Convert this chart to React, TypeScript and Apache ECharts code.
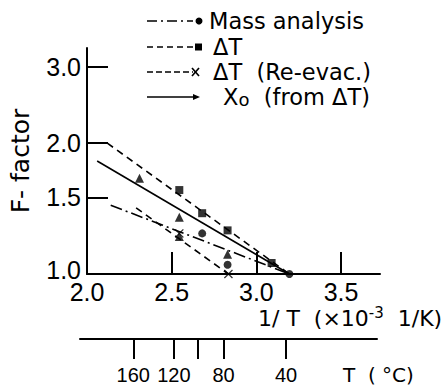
import React, { useEffect, useRef } from "react";
import * as echarts from "echarts";

// ---- data ----
const xTickValues = [2.0, 2.5, 3.0, 3.5];
const yTickValues = [1.0, 1.5, 2.0, 3.0];
const tempTicks = [160, 120, 100, 80, 40];
const tempLabels = ["160", "120", "", "80", "40"];

const massFit = [[2.14, 1.44], [3.195, 1.0]];
const massPts = [[2.68, 1.24], [2.83, 1.05], [3.195, 1.0]];
const dtFit = [[2.12, 2.0], [3.195, 1.0]];
const dtPts = [[2.545, 1.56], [2.68, 1.38], [2.83, 1.26], [3.09, 1.06]];
const reFit = [[2.29, 1.42], [2.835, 1.0]];
const rePts = [[2.545, 1.24], [2.835, 1.0]];
const x0Fit = [[2.06, 1.82], [3.195, 1.0]];
const x0Pts = [[2.31, 1.66], [2.545, 1.35], [2.545, 1.22], [2.83, 1.11]];

const FONT = "DejaVu Sans";
const TICKFONT = "Liberation Sans";
const lg = (d: number[][]) => d.map(([x, f]) => [x, Math.log10(f)]);
const invT = (t: number) => 1000 / (t + 273.15);
const X_SYMBOL = "path://M0,1L1,0L5,4L9,0L10,1L6,5L10,9L9,10L5,6L1,10L0,9L4,5Z";

export default function App() {
  const ref = useRef<HTMLDivElement>(null);
  useEffect(() => {
    if (!ref.current) return;
    const chart = echarts.init(ref.current, null, { renderer: "svg" });
    const tempVals = tempTicks.map(invT);
    const black = "#000";
    const fitLine = (name: string, data: number[][], type: any) => ({
      name,
      type: "line",
      data: lg(data),
      symbol: "none",
      lineStyle: { color: black, width: 1.6, type },
      z: 3,
    });
    const pts = (name: string, data: number[][], symbol: string, size: number) => ({
      name,
      type: "scatter",
      data: lg(data),
      symbol,
      symbolSize: size,
      itemStyle: { color: black },
      z: 4,
    });
    const legendRows = [
      { y: 21, dash: [10, 4, 2, 4], sym: "dot" },
      { y: 47, dash: [6, 4], sym: "square" },
      { y: 72, dash: [6, 3], sym: "x" },
      { y: 97, dash: null, sym: "tri" },
    ];
    const legendGraphics: any[] = [];
    legendRows.forEach((r) => {
      legendGraphics.push({
        type: "line",
        shape: { x1: 147, y1: r.y, x2: 193, y2: r.y },
        style: { stroke: black, lineWidth: 1.6, lineDash: r.dash || undefined },
      });
      if (r.sym === "dot")
        legendGraphics.push({ type: "circle", shape: { cx: 199, cy: r.y, r: 3.5 }, style: { fill: black } });
      if (r.sym === "square")
        legendGraphics.push({ type: "rect", shape: { x: 195, y: r.y - 3.5, width: 7, height: 7 }, style: { fill: black } });
      if (r.sym === "x") {
        legendGraphics.push({ type: "line", shape: { x1: 192, y1: r.y - 4, x2: 199, y2: r.y + 4 }, style: { stroke: black, lineWidth: 1.6 } });
        legendGraphics.push({ type: "line", shape: { x1: 199, y1: r.y - 4, x2: 192, y2: r.y + 4 }, style: { stroke: black, lineWidth: 1.6 } });
      }
      if (r.sym === "tri")
        legendGraphics.push({ type: "polygon", shape: { points: [[193, r.y - 3], [200, r.y], [193, r.y + 3]] }, style: { fill: black } });
    });
    const LEGSIZE = 22.5;
    const legText = (x: number, y: number, text: string) => ({
      type: "text",
      x,
      y,
      style: {
        text,
        verticalAlign: "middle",
        font: `${LEGSIZE}px '${FONT}'`,
        lineHeight: 22,
        fill: black,
      },
    });
    legendGraphics.push(
      legText(209, 21, "Mass analysis"),
      legText(213, 47, "ΔT"),
      legText(213, 72, "ΔT  (Re-evac.)"),
      {
        type: "text",
        x: 223,
        y: 97,
        style: {
          text: "{m|X}{s|o}{m|  (from ΔT)}",
          verticalAlign: "middle",
          rich: {
            m: { fontFamily: FONT, fontSize: LEGSIZE, color: black, lineHeight: 22, verticalAlign: "bottom" },
            s: { fontFamily: FONT, fontSize: 18, color: black, lineHeight: 18, verticalAlign: "bottom", padding: [3, 0, 0, 0] },
          },
        },
      },
      {
        type: "text",
        x: 258,
        y: 317,
        style: {
          text: "{n|1/ T  (×10}{s|-3}{n|  1/K)}",
          verticalAlign: "middle",
          rich: {
            n: { fontFamily: FONT, fontSize: 22, color: black, lineHeight: 24, verticalAlign: "bottom" },
            s: { fontFamily: FONT, fontSize: 15, color: black, lineHeight: 24, verticalAlign: "top" },
          },
        },
      },
      { type: "text", x: 343, y: 375, style: { text: "T  ( °C)", font: `20px '${FONT}'`, fill: black, verticalAlign: "middle" } }
    );

    chart.setOption({
      animation: false,
      backgroundColor: "#fff",
      grid: [
        { left: 79, right: 63, top: 48, bottom: 114 },
        { left: 80, right: 66, top: 338, height: 1 },
      ],
      xAxis: [
        {
          type: "value",
          gridIndex: 0,
          min: 2.0,
          max: 3.73,
          axisLine: { onZero: false, lineStyle: { color: black, width: 2 } },
          axisTick: { inside: true, length: 22, lineStyle: { color: black, width: 2 }, customValues: xTickValues },
          axisLabel: {
            customValues: xTickValues,
            formatter: (v: number) => v.toFixed(1),
            fontFamily: TICKFONT,
            fontSize: 25,
            lineHeight: 18,
            color: black,
            margin: 9,
          },
          splitLine: { show: false },
        },
        {
          type: "value",
          gridIndex: 1,
          min: 2.0,
          max: 3.72,
          axisLine: { onZero: false, lineStyle: { color: black, width: 2 } },
          axisTick: { inside: false, length: 20, lineStyle: { color: black, width: 2 }, customValues: tempVals },
          axisLabel: {
            customValues: tempVals,
            formatter: (v: number) => {
              let best = 0;
              tempVals.forEach((t, i) => {
                if (Math.abs(t - v) < Math.abs(tempVals[best] - v)) best = i;
              });
              return tempLabels[best];
            },
            fontFamily: TICKFONT,
            fontSize: 20,
            color: black,
            margin: 26,
          },
          splitLine: { show: false },
        },
      ],
      yAxis: [
        {
          type: "value",
          gridIndex: 0,
          min: 0,
          max: 0.52,
          name: "F- factor",
          nameLocation: "middle",
          nameRotate: 90,
          nameGap: 54,
          nameTextStyle: { fontFamily: FONT, fontSize: 25, color: black },
          axisLine: { show: true, onZero: false, lineStyle: { color: black, width: 2 } },
          axisTick: {
            inside: true,
            length: 21,
            lineStyle: { color: black, width: 2 },
            customValues: yTickValues.map((v) => Math.log10(v)),
          },
          axisLabel: {
            customValues: yTickValues.map((v) => Math.log10(v)),
            formatter: (v: number) => {
              const s = Math.pow(10, v).toFixed(1);
              return v < 0.01 ? `{low|${s}}` : `{n|${s}}`;
            },
            rich: {
              n: { fontFamily: TICKFONT, fontSize: 25, lineHeight: 18, color: black },
              low: { fontFamily: TICKFONT, fontSize: 25, lineHeight: 18, color: black, padding: [0, 0, 8, 0] },
            },
            fontFamily: TICKFONT,
            fontSize: 25,
            lineHeight: 18,
            color: black,
            margin: 6,
          },
          splitLine: { show: false },
        },
        { type: "value", gridIndex: 1, show: false, min: 0, max: 1 },
      ],
      series: [
        fitLine("Mass analysis", massFit, [12, 4, 2, 4]),
        fitLine("ΔT", dtFit, [7, 5]),
        fitLine("ΔT (Re-evac.)", reFit, [7, 5]),
        fitLine("X0 (from ΔT)", x0Fit, "solid"),
        pts("Mass analysis pts", massPts, "circle", 8),
        pts("ΔT pts", dtPts, "rect", 8),
        pts("Re-evac pts", rePts, X_SYMBOL, 9),
        pts("X0 pts", x0Pts, "triangle", 9),
      ],
      graphic: legendGraphics,
    });
    return () => chart.dispose();
  }, []);
  return <div ref={ref} style={{ position: "absolute", left: 0, top: 0, width: 443, height: 388 }} />;
}
